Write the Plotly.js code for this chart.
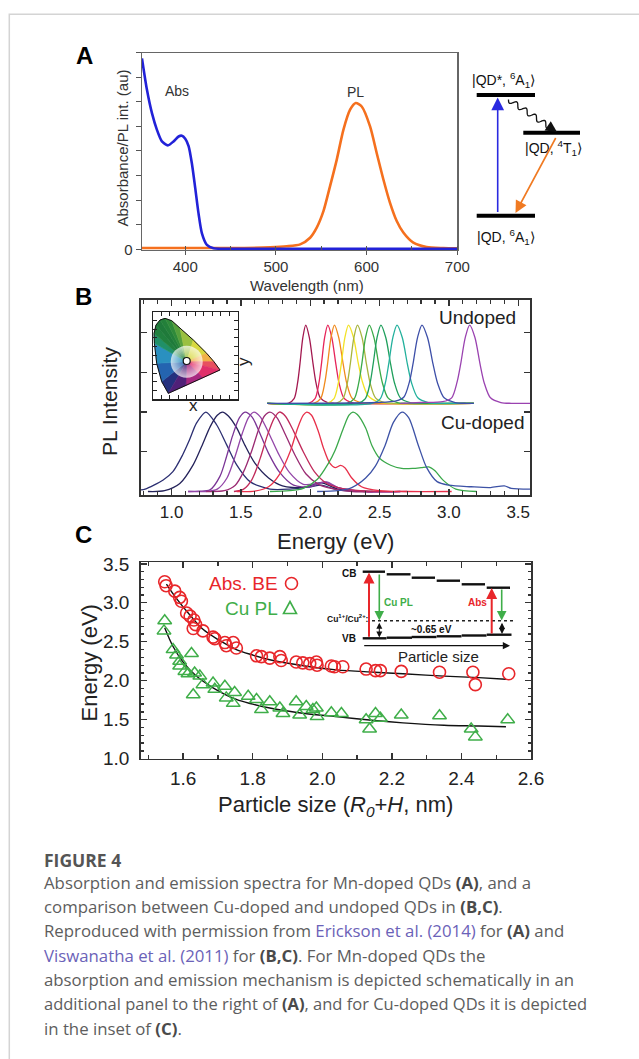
<!DOCTYPE html>
<html><head><meta charset="utf-8">
<script src="https://cdn.plot.ly/plotly-3.0.1.min.js"></script>
<style>html,body{margin:0;padding:0;background:#fff;} #chart{width:639px;height:1059px;}</style>
</head><body><div id="chart"></div>
<script>
// ---------------- Panel A data ----------------
const absWl  = [352.3, 357.8, 363.3, 368.8, 374.3, 380.9, 387.1, 392.7, 396.3, 400, 403.7, 407.3, 411, 414.7, 418.4, 423.9, 431.2, 450, 500, 600, 700];
const absVal = [7.77, 6.49, 5.54, 4.86, 4.39, 4.23, 4.39, 4.59, 4.62, 4.50, 4.20, 3.50, 2.50, 1.45, 0.65, 0.18, 0.04, 0.02, 0.02, 0.02, 0.02];
const plWl   = [352, 450, 493.6, 512, 526.7, 537.7, 545, 552.4, 559.7, 567.1, 574.4, 581.8, 588, 594.6, 603.8, 611.1, 618.5, 625.8, 633.2, 640.5, 651.5, 666.2, 684.6, 700];
const plVal  = [0.05, 0.05, 0.08, 0.12, 0.2, 0.47, 0.88, 1.55, 2.57, 3.65, 4.86, 5.68, 5.95, 5.81, 5.0, 3.92, 2.84, 1.89, 1.15, 0.68, 0.27, 0.09, 0.05, 0.04];
const wlTicks = [400, 500, 600, 700];

// ---------------- Panel B data (energy eV, normalised intensity) ----------------
const undopedColors = ['#a3184f','#e6245a','#f08a1c','#f2e226','#a7b43e','#3aaa48','#1f9f5c','#22b09c','#3d4fa8','#9a42b0'];
const undopedX = [
 [1.69, 1.842, 1.884, 1.909, 1.926, 1.947, 1.968, 1.994, 2.021, 2.042, 2.073, 2.126, 2.178, 3.18],
 [1.69, 1.989, 2.035, 2.063, 2.081, 2.104, 2.127, 2.156, 2.185, 2.208, 2.242, 2.300, 2.357, 3.18],
 [1.69, 2.025, 2.075, 2.105, 2.125, 2.150, 2.175, 2.206, 2.238, 2.263, 2.300, 2.363, 2.425, 3.18],
 [1.69, 2.120, 2.172, 2.203, 2.224, 2.250, 2.276, 2.311, 2.346, 2.374, 2.416, 2.486, 2.556, 3.18],
 [1.69, 2.185, 2.237, 2.268, 2.289, 2.315, 2.341, 2.374, 2.406, 2.432, 2.471, 2.536, 2.601, 3.18],
 [1.69, 2.264, 2.318, 2.350, 2.372, 2.399, 2.426, 2.460, 2.494, 2.521, 2.561, 2.629, 2.696, 3.18],
 [1.69, 2.342, 2.398, 2.432, 2.454, 2.482, 2.510, 2.545, 2.580, 2.608, 2.650, 2.720, 2.790, 3.18],
 [1.69, 2.446, 2.506, 2.542, 2.566, 2.596, 2.626, 2.664, 2.701, 2.731, 2.776, 2.851, 2.926, 3.18],
 [1.69, 2.480, 2.620, 2.676, 2.715, 2.741, 2.774, 2.806, 2.846, 2.886, 2.918, 2.966, 3.046, 3.126, 3.18],
 [2.65, 2.800, 2.955, 3.020, 3.059, 3.085, 3.118, 3.150, 3.188, 3.225, 3.255, 3.300, 3.375, 3.450, 3.585]
];
const undopedY = [
 [0, 0, 0.06, 0.26, 0.5, 0.84, 1, 0.84, 0.5, 0.26, 0.07, 0.01, 0, 0],
 [0, 0, 0.06, 0.26, 0.5, 0.84, 1, 0.84, 0.5, 0.26, 0.07, 0.01, 0, 0],
 [0, 0, 0.06, 0.26, 0.5, 0.84, 1, 0.84, 0.5, 0.26, 0.07, 0.01, 0, 0],
 [0, 0, 0.06, 0.26, 0.5, 0.84, 1, 0.85, 0.52, 0.29, 0.1, 0.02, 0, 0],
 [0, 0, 0.06, 0.26, 0.5, 0.84, 1, 0.84, 0.5, 0.26, 0.07, 0.01, 0, 0],
 [0, 0, 0.06, 0.26, 0.5, 0.84, 1, 0.84, 0.5, 0.26, 0.07, 0.01, 0, 0],
 [0, 0, 0.06, 0.26, 0.5, 0.84, 1, 0.84, 0.5, 0.26, 0.07, 0.01, 0, 0],
 [0, 0, 0.06, 0.26, 0.5, 0.84, 1, 0.84, 0.5, 0.26, 0.07, 0.01, 0, 0],
 [0, 0.01, 0.03, 0.08, 0.27, 0.5, 0.84, 1, 0.84, 0.5, 0.26, 0.07, 0.01, 0, 0],
 [0, 0.01, 0.02, 0.07, 0.27, 0.5, 0.84, 1, 0.84, 0.5, 0.26, 0.07, 0.01, 0, 0]
];
const cuColors = ['#2c2f72','#24225a','#7a3496','#9346a8','#9a2a72','#c12a5a','#e8304a','#3aa84a','#3d52a6'];
const cuX = [
 [0.78, 0.81, 0.94, 1.01, 1.08, 1.13, 1.18, 1.248, 1.325, 1.397, 1.47, 1.566, 1.71, 1.85, 2.0, 2.08, 2.2, 2.4],
 [0.83, 0.95, 1.06, 1.156, 1.217, 1.28, 1.33, 1.368, 1.41, 1.47, 1.53, 1.6, 1.7, 1.8, 1.95, 2.08, 2.2, 2.45],
 [1.12, 1.2, 1.277, 1.349, 1.397, 1.44, 1.49, 1.53, 1.58, 1.64, 1.7, 1.78, 1.88, 2.0, 2.1, 2.2, 2.4, 2.65],
 [1.12, 1.25, 1.33, 1.4, 1.46, 1.51, 1.555, 1.595, 1.64, 1.7, 1.77, 1.85, 1.95, 2.05, 2.12, 2.2, 2.4, 2.65],
 [1.25, 1.38, 1.46, 1.52, 1.58, 1.63, 1.67, 1.71, 1.76, 1.82, 1.89, 1.97, 2.06, 2.15, 2.3, 2.5],
 [1.45, 1.52, 1.58, 1.64, 1.69, 1.74, 1.778, 1.82, 1.88, 1.95, 2.03, 2.12, 2.2, 2.3, 2.5, 2.7],
 [1.47, 1.6, 1.7, 1.78, 1.855, 1.91, 1.95, 1.975, 2.01, 2.06, 2.095, 2.14, 2.18, 2.22, 2.25, 2.3, 2.37, 2.5, 2.7, 3.02],
 [1.71, 1.85, 1.95, 2.05, 2.13, 2.18, 2.24, 2.28, 2.308, 2.34, 2.4, 2.445, 2.5, 2.58, 2.66, 2.74, 2.8, 2.855, 2.9, 2.96, 3.05, 3.2],
 [2.05, 2.2, 2.3, 2.4, 2.47, 2.54, 2.6, 2.662, 2.71, 2.78, 2.84, 2.915, 3.0, 3.16, 3.3, 3.4, 3.45, 3.585]
];
const cuY = [
 [0.02, 0.03, 0.145, 0.25, 0.46, 0.65, 0.86, 1.0, 0.84, 0.59, 0.335, 0.124, 0.03, 0.03, 0.06, 0.08, 0.02, 0.0],
 [0.0, 0.01, 0.1, 0.335, 0.566, 0.82, 0.96, 1.0, 0.95, 0.8, 0.58, 0.36, 0.17, 0.07, 0.05, 0.11, 0.03, 0.0],
 [0, 0.005, 0.02, 0.19, 0.44, 0.7, 0.93, 1.0, 0.94, 0.72, 0.48, 0.24, 0.08, 0.06, 0.12, 0.05, 0.0, 0.0],
 [0, 0.0, 0.03, 0.17, 0.45, 0.73, 0.93, 1.0, 0.94, 0.74, 0.48, 0.24, 0.09, 0.1, 0.12, 0.05, 0.0, 0.0],
 [0, 0.01, 0.08, 0.25, 0.52, 0.79, 0.95, 1.0, 0.93, 0.72, 0.46, 0.22, 0.09, 0.04, 0.0, 0.0],
 [0, 0.03, 0.15, 0.42, 0.7, 0.92, 1.0, 0.95, 0.76, 0.5, 0.25, 0.1, 0.05, 0.02, 0.0, 0.0],
 [0, 0.005, 0.06, 0.22, 0.5, 0.8, 0.96, 1.0, 0.96, 0.75, 0.55, 0.36, 0.3, 0.33, 0.3, 0.17, 0.06, 0.01, 0.0, 0.0],
 [0, 0.01, 0.04, 0.15, 0.35, 0.52, 0.8, 0.96, 1.0, 0.97, 0.8, 0.58, 0.42, 0.33, 0.29, 0.29, 0.3, 0.31, 0.26, 0.14, 0.03, 0.0],
 [0, 0.01, 0.05, 0.17, 0.32, 0.58, 0.87, 1.0, 0.93, 0.58, 0.3, 0.124, 0.08, 0.06, 0.05, 0.07, 0.04, 0.03]
];
const undopedOffset = 1.11, undopedScale = 0.985;
const energyTicks = [1.0, 1.5, 2.0, 2.5, 3.0, 3.5];

// chromaticity inset (normalised inset coordinates)
const locusU = [0.184, 0.106, 0.047, 0.020, 0.016, 0.039, 0.086, 0.145, 0.224, 0.322, 0.478, 0.635, 0.720, 0.792, 0.590, 0.390, 0.184];
const locusV = [0.068, 0.202, 0.411, 0.639, 0.753, 0.848, 0.905, 0.924, 0.897, 0.810, 0.677, 0.525, 0.430, 0.335, 0.245, 0.157, 0.068];
const wedgeColors = ['#24307e','#2464b0','#2a90c0','#209068','#21803e','#1f7a3a','#23803a','#2f8a3a','#55a03c','#9ac040','#d8d840','#f0b048','#e85060','#e0306a','#a82880','#502078'];
const whitePoint = [0.40, 0.43];
const samplePoint = [0.40, 0.437];

// ---------------- Panel C data ----------------
const absSize = [1.547, 1.551, 1.576, 1.590, 1.595, 1.610, 1.620, 1.631, 1.636, 1.629, 1.657, 1.686, 1.691, 1.720, 1.724, 1.744, 1.753, 1.811, 1.825, 1.849, 1.878, 1.882, 1.925, 1.944, 1.964, 1.983, 1.985, 2.026, 2.035, 2.059, 2.126, 2.153, 2.167, 2.227, 2.337, 2.433, 2.440, 2.536];
const absE    = [3.27, 3.22, 3.15, 3.07, 3.02, 2.87, 2.83, 2.78, 2.72, 2.67, 2.64, 2.56, 2.54, 2.49, 2.45, 2.49, 2.42, 2.32, 2.31, 2.29, 2.31, 2.26, 2.24, 2.23, 2.22, 2.24, 2.20, 2.19, 2.18, 2.18, 2.15, 2.13, 2.13, 2.12, 2.11, 2.11, 1.95, 2.09];
const plSize  = [1.547, 1.545, 1.571, 1.581, 1.590, 1.590, 1.605, 1.624, 1.614, 1.633, 1.648, 1.629, 1.657, 1.686, 1.691, 1.720, 1.724, 1.748, 1.744, 1.787, 1.811, 1.825, 1.849, 1.878, 1.887, 1.925, 1.935, 1.954, 1.973, 1.983, 1.985, 2.026, 2.055, 2.126, 2.136, 2.153, 2.167, 2.227, 2.337, 2.428, 2.440, 2.533];
const plE     = [2.77, 2.64, 2.40, 2.33, 2.25, 2.19, 2.12, 2.35, 2.09, 2.10, 2.06, 1.82, 1.95, 1.97, 1.89, 1.93, 1.78, 1.85, 1.71, 1.80, 1.76, 1.63, 1.73, 1.65, 1.58, 1.73, 1.56, 1.67, 1.63, 1.65, 1.54, 1.59, 1.58, 1.50, 1.38, 1.58, 1.52, 1.56, 1.55, 1.38, 1.28, 1.50];
const fitAbsX = [1.552, 1.58, 1.62, 1.657, 1.7, 1.753, 1.8, 1.849, 1.95, 2.04, 2.15, 2.232, 2.35, 2.45, 2.528];
const fitAbsY = [3.24, 3.06, 2.84, 2.66, 2.53, 2.40, 2.33, 2.27, 2.19, 2.14, 2.11, 2.09, 2.06, 2.04, 2.02];
const fitPLX  = [1.547, 1.571, 1.6, 1.638, 1.686, 1.753, 1.8, 1.849, 1.95, 2.04, 2.15, 2.232, 2.35, 2.45, 2.528];
const fitPLY  = [2.68, 2.44, 2.24, 2.06, 1.91, 1.76, 1.70, 1.65, 1.58, 1.54, 1.49, 1.46, 1.43, 1.42, 1.41];
const sizeTicks = [1.6, 1.8, 2.0, 2.2, 2.4, 2.6];
const energyCTicks = [1.0, 1.5, 2.0, 2.5, 3.0, 3.5];

// ---------------- helpers ----------------
const W = 639, H = 1059;
const PX = x => x / W, PY = y => 1 - y / H;
const SANS = 'Liberation Sans, Arial, Helvetica, sans-serif';
function ann(text, x, y, size, o) {
  o = o || {};
  return Object.assign({text: text, x: PX(x), y: PY(y), xref: 'paper', yref: 'paper', showarrow: false,
    xanchor: 'center', yanchor: 'middle', font: {family: SANS, size: size, color: o.color || '#222'}}, o.extra || {});
}
function arrow(hx, hy, tx, ty, color, width, size, side, head) {
  return {text: '', x: PX(hx), y: PY(hy), xref: 'paper', yref: 'paper', ax: tx - hx, ay: ty - hy,
    axref: 'pixel', ayref: 'pixel', showarrow: true, arrowhead: head || 2, arrowsize: size, arrowwidth: width,
    arrowcolor: color, standoff: 0, startstandoff: 0, arrowside: side || 'end', startarrowhead: head || 2, startarrowsize: size};
}
function seg(x0, y0, x1, y1, color, width, dash) {
  return {type: 'line', xref: 'paper', yref: 'paper', x0: PX(x0), y0: PY(y0), x1: PX(x1), y1: PY(y1),
    line: {color: color, width: width, dash: dash || 'solid'}};
}
function wavy(x0, y0, x1, y1, amp, nWaves) {
  const n = 80, dx = x1 - x0, dy = y1 - y0, L = Math.hypot(dx, dy);
  const nx = -dy / L, ny = dx / L; let d = '';
  for (let i = 0; i <= n; i++) {
    const t = i / n, s = amp * Math.sin(t * nWaves * 2 * Math.PI);
    d += (i ? 'L' : 'M') + PX(x0 + dx * t + nx * s).toFixed(5) + ',' + PY(y0 + dy * t + ny * s).toFixed(5);
  }
  return d;
}

const traces = [];
// Panel A
traces.push({x: plWl, y: plVal, xaxis: 'x', yaxis: 'y', mode: 'lines', line: {color: '#f5701e', width: 2.6, shape: 'spline', smoothing: 0.7}, hoverinfo: 'skip'});
traces.push({x: absWl, y: absVal, xaxis: 'x', yaxis: 'y', mode: 'lines', line: {color: '#2222d8', width: 2.6, shape: 'spline', smoothing: 0.7}, hoverinfo: 'skip'});
// Panel B undoped
undopedX.forEach((xs, i) => {
  traces.push({x: xs, y: undopedY[i].map(v => undopedOffset + undopedScale * v), xaxis: 'x2', yaxis: 'y2', mode: 'lines',
    line: {color: undopedColors[i], width: 1.3, shape: 'spline', smoothing: 0.8}, hoverinfo: 'skip'});
});
// Panel B Cu-doped
cuX.forEach((xs, i) => {
  traces.push({x: xs, y: cuY[i], xaxis: 'x2', yaxis: 'y2', mode: 'lines',
    line: {color: cuColors[i], width: 1.3, shape: 'spline', smoothing: 0.8}, hoverinfo: 'skip'});
});
// Inset chromaticity wedges
for (let i = 0; i < locusU.length - 1; i++) {
  traces.push({x: [whitePoint[0], locusU[i], locusU[i + 1], whitePoint[0]], y: [whitePoint[1], locusV[i], locusV[i + 1], whitePoint[1]],
    xaxis: 'x3', yaxis: 'y3', mode: 'lines', fill: 'toself', fillcolor: wedgeColors[i],
    line: {color: wedgeColors[i], width: 0.6}, hoverinfo: 'skip'});
}
traces.push({x: [whitePoint[0]], y: [whitePoint[1]], xaxis: 'x3', yaxis: 'y3', mode: 'markers',
  marker: {size: 32, color: 'rgba(255,255,255,0.7)', line: {width: 0}, gradient: {type: 'radial', color: 'rgba(255,255,255,0)'}}, hoverinfo: 'skip'});
traces.push({x: locusU, y: locusV, xaxis: 'x3', yaxis: 'y3', mode: 'lines', line: {color: '#111', width: 1}, hoverinfo: 'skip'});
traces.push({x: [samplePoint[0]], y: [samplePoint[1]], xaxis: 'x3', yaxis: 'y3', mode: 'markers',
  marker: {size: 7, color: '#fff', line: {color: '#111', width: 1.2}}, hoverinfo: 'skip'});
// Panel C
traces.push({x: fitAbsX, y: fitAbsY, xaxis: 'x4', yaxis: 'y4', mode: 'lines', line: {color: '#111', width: 1.4, shape: 'spline'}, hoverinfo: 'skip'});
traces.push({x: fitPLX, y: fitPLY, xaxis: 'x4', yaxis: 'y4', mode: 'lines', line: {color: '#111', width: 1.4, shape: 'spline'}, hoverinfo: 'skip'});
traces.push({x: absSize, y: absE, xaxis: 'x4', yaxis: 'y4', mode: 'markers', cliponaxis: false,
  marker: {symbol: 'circle-open', size: 12, color: '#e8262a', line: {width: 1.6}}, hoverinfo: 'skip'});
traces.push({x: plSize, y: plE, xaxis: 'x4', yaxis: 'y4', mode: 'markers', cliponaxis: false,
  marker: {symbol: 'triangle-up-open', size: 12, color: '#3fae49', line: {width: 1.5}}, hoverinfo: 'skip'});

const axBase = {showgrid: false, zeroline: false, fixedrange: true, showline: true};
const layout = {
  width: W, height: H, margin: {l: 0, r: 0, t: 0, b: 0}, paper_bgcolor: '#fff', plot_bgcolor: 'rgba(0,0,0,0)',
  showlegend: false, font: {family: SANS, color: '#222'},
  xaxis: Object.assign({}, axBase, {domain: [PX(141.7), PX(457.3)], anchor: 'y', range: [352, 700], linecolor: '#666', linewidth: 1.2,
    mirror: true, tickmode: 'array', tickvals: wlTicks, ticks: 'outside', ticklen: 4, tickcolor: '#555',
    minor: {dtick: 50, tick0: 350, ticks: 'inside', ticklen: 4, tickcolor: '#555'}, ticklabelstandoff: -1,
    tickfont: {family: SANS, size: 15, color: '#333'}}),
  yaxis: Object.assign({}, axBase, {domain: [PY(250), PY(52.7)], anchor: 'x', range: [-0.03, 8.0], linecolor: '#666', linewidth: 1.2,
    mirror: true, tickmode: 'array', tickvals: [0, 1, 2, 3, 4, 5, 6, 7, 8], ticktext: ['0', '', '', '', '', '', '', '', ''],
    ticks: 'outside', ticklen: 5, tickcolor: '#555', tickfont: {family: SANS, size: 15, color: '#333'}}),
  xaxis2: Object.assign({}, axBase, {domain: [PX(141), PX(530)], anchor: 'y2', range: [0.78, 3.585], linecolor: '#333', linewidth: 1.6,
    mirror: 'allticks', tickmode: 'array', tickvals: energyTicks, ticktext: energyTicks.map(v => v.toFixed(1)), ticks: 'inside', ticklen: 6, tickcolor: '#333', tickwidth: 1.3,
    minor: {dtick: 0.1, tick0: 0.8, ticks: 'inside', ticklen: 4, tickcolor: '#333'}, ticklabelstandoff: 1,
    tickfont: {family: SANS, size: 17, color: '#222'}}),
  yaxis2: Object.assign({}, axBase, {domain: [PY(495), PY(300)], anchor: 'x2', range: [-0.044, 2.41], linecolor: '#333', linewidth: 1.6,
    mirror: 'allticks', tickmode: 'array', tickvals: [0.5, 1.0, 1.5, 2.0], ticks: 'inside', ticklen: 6, tickcolor: '#333', tickwidth: 1.3, showticklabels: false}),
  xaxis3: Object.assign({}, axBase, {domain: [PX(152.7), PX(237.7)], anchor: 'y3', range: [0, 1], linecolor: '#222', linewidth: 1.2,
    mirror: 'allticks', dtick: 0.1, tick0: 0, ticks: 'inside', ticklen: 4, tickcolor: '#222', showticklabels: false}),
  yaxis3: Object.assign({}, axBase, {domain: [PY(399.3), PY(311.7)], anchor: 'x3', range: [0, 1], linecolor: '#222', linewidth: 1.2,
    mirror: 'allticks', dtick: 0.1, tick0: 0, ticks: 'inside', ticklen: 4, tickcolor: '#222', showticklabels: false}),
  xaxis4: Object.assign({}, axBase, {domain: [PX(140.7), PX(531)], anchor: 'y4', range: [1.478, 2.6], linecolor: '#333', linewidth: 1.6,
    mirror: 'allticks', tickmode: 'array', tickvals: sizeTicks, ticktext: sizeTicks.map(v => v.toFixed(1)), ticks: 'inside', ticklen: 6, tickcolor: '#333', tickwidth: 1.3,
    minor: {dtick: 0.1, tick0: 1.5, ticks: 'inside', ticklen: 4, tickcolor: '#333'}, ticklabelstandoff: 2,
    tickfont: {family: SANS, size: 19, color: '#222'}}),
  yaxis4: Object.assign({}, axBase, {domain: [PY(758.7), PY(562.3)], anchor: 'x4', range: [1.0, 3.52], linecolor: '#333', linewidth: 1.6,
    mirror: 'allticks', tickmode: 'array', tickvals: energyCTicks, ticktext: energyCTicks.map(v => v.toFixed(1)), ticks: 'inside', ticklen: 6, tickcolor: '#333', tickwidth: 1.3,
    minor: {dtick: 0.1, tick0: 1.0, ticks: 'inside', ticklen: 3.5, tickcolor: '#333'}, ticklabelstandoff: 6,
    tickfont: {family: SANS, size: 19, color: '#222'}}),
  annotations: [], shapes: []
};

const A = layout.annotations, S = layout.shapes;
// frame border of the figure card
S.push({type: 'rect', xref: 'paper', yref: 'paper', x0: PX(9.3), x1: PX(700), y0: PY(14.3), y1: PY(1100), line: {color: '#d4d4d4', width: 1.5}});

// Panel letters
A.push(ann('<b>A</b>', 84, 56, 24, {color: '#000'}));
A.push(ann('<b>B</b>', 83.5, 297, 24, {color: '#000'}));
A.push(ann('<b>C</b>', 83.5, 534, 24, {color: '#000'}));

// Panel A texts
A.push(ann('Absorbance/PL int. (au)', 121.5, 148, 15, {color: '#333', extra: {textangle: -90}}));
A.push(ann('Wavelength (nm)', 306.7, 286, 15, {color: '#333'}));
A.push(ann('Abs', 177, 91, 14, {color: '#333'}));
A.push(ann('PL', 355, 92, 14, {color: '#333'}));
// Panel A energy scheme
S.push(seg(476.7, 95, 535, 95, '#000', 4));
S.push(seg(523.3, 132.7, 580, 132.7, '#000', 4));
S.push(seg(476.7, 215.7, 535, 215.7, '#000', 4));
A.push(ann('|QD*, <sup>6</sup>A<sub>1</sub>⟩', 503, 80, 14, {color: '#111'}));
A.push(ann('|QD, <sup>4</sup>T<sub>1</sub>⟩', 553, 148, 14, {color: '#111'}));
A.push(ann('|QD, <sup>6</sup>A<sub>1</sub>⟩', 505.5, 237, 14, {color: '#111'}));
A.push(arrow(497.7, 97.5, 497.7, 213.5, '#2a2ae0', 1.6, 1.6));
S.push({type: 'path', xref: 'paper', yref: 'paper', path: wavy(508.5, 99.5, 550.5, 127.5, 2.6, 4.5), line: {color: '#111', width: 1.3}});
A.push(arrow(557, 132, 549.5, 127, '#111', 1.4, 1.6));
A.push(arrow(515.5, 213, 556.5, 136.5, '#f07a22', 1.6, 1.5));

// Panel B texts
A.push(ann('PL Intensity', 109, 402, 21, {color: '#222', extra: {textangle: -90}}));
A.push(ann('Undoped', 477, 317, 19, {color: '#222'}));
A.push(ann('Cu-doped', 482, 422, 19, {color: '#222'}));
A.push(ann('x', 193.5, 406, 17, {color: '#222'}));
A.push(ann('y', 244, 362, 17, {color: '#222', extra: {textangle: -90}}));
A.push(ann('Energy (eV)', 335.5, 541, 22, {color: '#222'}));

// Panel C texts
A.push(ann('Energy (eV)', 88.5, 663, 22, {color: '#222', extra: {textangle: -90}}));
A.push(ann('Particle size (<i>R</i><sub><i>0</i></sub>+<i>H</i>, nm)', 335, 806, 22, {color: '#222'}));
A.push(ann('Abs. BE', 243, 583.5, 19, {color: '#e8262a'}));
A.push(ann('Cu PL', 252, 608, 19, {color: '#3fae49'}));
S.push({type: 'circle', xref: 'paper', yref: 'paper', x0: PX(285.5), x1: PX(297.5), y0: PY(577.5), y1: PY(589.5), line: {color: '#e8262a', width: 1.6}});
S.push({type: 'path', xref: 'paper', yref: 'paper', line: {color: '#3fae49', width: 1.6},
  path: 'M' + PX(283.5) + ',' + PY(613.5) + 'L' + PX(296.5) + ',' + PY(613.5) + 'L' + PX(290) + ',' + PY(601.5) + 'Z'});
// Panel C inset scheme
const cbY = [571.7, 574.3, 577.7, 580.7, 584.3, 587.7];
const vbY = [638.3, 637.7, 637.0, 636.3, 635.5, 634.7];
const stepX = [[362.7, 385], [386.7, 410.5], [411.7, 435], [436.7, 460], [461.7, 485], [486.7, 510]];
stepX.forEach((sx, i) => { S.push(seg(sx[0], cbY[i], sx[1], cbY[i], '#111', 2.4)); S.push(seg(sx[0], vbY[i], sx[1] + 1.5, vbY[i], '#111', 2.4)); });
S.push(seg(372, 620.7, 513, 620.7, '#222', 1.4, 'dot'));
A.push(ann('<b>CB</b>', 348.5, 573.5, 10, {color: '#111'}));
A.push(ann('<b>VB</b>', 348.5, 638.5, 10, {color: '#111'}));
A.push(ann('<b>Cu<sup>1+</sup>/Cu<sup>2+</sup>:</b>', 371, 618.5, 8.5, {color: '#111', extra: {xanchor: 'right'}}));
A.push(ann('<b>Cu PL</b>', 398.5, 602, 10, {color: '#3fae49'}));
A.push(ann('<b>Abs</b>', 477.5, 602.5, 10, {color: '#e8262a'}));
A.push(ann('<b>~0.65 eV</b>', 431.7, 629.3, 10, {color: '#111'}));
A.push(ann('Particle size', 438.5, 656, 15, {color: '#222'}));
A.push(arrow(369, 572.5, 369, 638.3, '#e8262a', 2, 1.1));
A.push(arrow(379.3, 620.5, 379.3, 573, '#3fae49', 1.6, 1.2));
A.push(arrow(379.3, 637.5, 379.3, 621.2, '#111', 1, 1.2, 'end+start'));
A.push(arrow(491.7, 588, 491.7, 635, '#e8262a', 2, 1.1));
A.push(arrow(501.7, 620.5, 501.7, 588, '#3fae49', 1.6, 1.2));
A.push(arrow(502, 634, 502, 621.2, '#111', 1, 1.2, 'end+start'));
A.push(arrow(510, 645.7, 362.7, 645.7, '#111', 1.2, 1.2));

// Caption
const CAP = 'Open Sans, Noto Sans, sans-serif';
function cap(text, y, size, color) {
  return {text: text, x: PX(41.7), y: PY(y), xref: 'paper', yref: 'paper', showarrow: false, xanchor: 'left', yanchor: 'middle',
    align: 'left', font: {family: CAP, size: size || 16.8, color: color || '#5d5d5d'}};
}
const link = t => '<span style="color:#6b62b8">' + t + '</span>';
const bd = t => '<b><span style="color:#4a4a4a">' + t + '</span></b>';
A.push(cap('<b>FIGURE 4</b>', 860, 17.5, '#555'));
A.push(cap('Absorption and emission spectra for Mn-doped QDs ' + bd('(A)') + ', and a', 882.7));
A.push(cap('comparison between Cu-doped and undoped QDs in ' + bd('(B,C)') + '.', 906.7));
A.push(cap('Reproduced with permission from ' + link('Erickson et al. (2014)') + ' for ' + bd('(A)') + ' and', 930.7));
A.push(cap(link('Viswanatha et al. (2011)') + ' for ' + bd('(B,C)') + '. For Mn-doped QDs the', 955));
A.push(cap('absorption and emission mechanism is depicted schematically in an', 979.3));
A.push(cap('additional panel to the right of ' + bd('(A)') + ', and for Cu-doped QDs it is depicted', 1003.3, 16.5));
A.push(cap('in the inset of ' + bd('(C)') + '.', 1028.3));

Plotly.newPlot('chart', traces, layout, {displayModeBar: false, staticPlot: true});
</script>
</body></html>
